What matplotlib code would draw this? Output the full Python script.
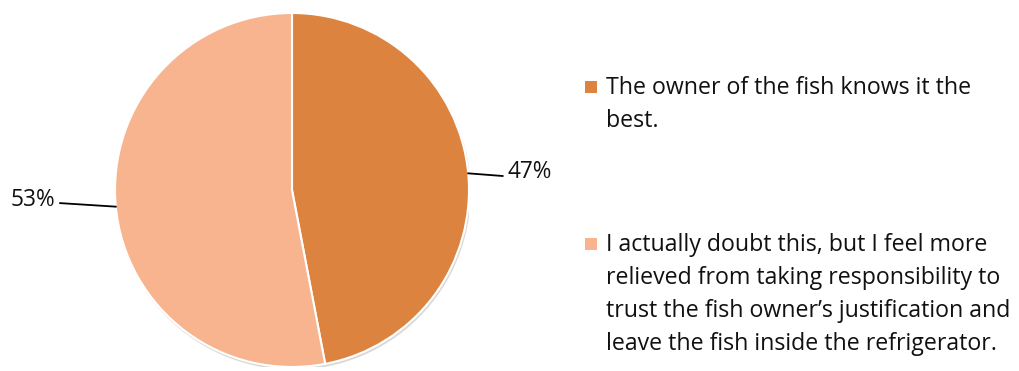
import matplotlib.pyplot as plt
import numpy as np
from matplotlib.patches import Rectangle, Circle

plt.rcParams['font.family'] = ['Open Sans', 'DejaVu Sans']

labels = ['The owner of the fish knows it the\nbest.',
          'I actually doubt this, but I feel more\nrelieved from taking responsibility to\n'
          'trust the fish owner\u2019s justification and\nleave the fish inside the refrigerator.']
shares = [47, 53]
colors = ['#DC843F', '#F8B48F']

fig = plt.figure(figsize=(10.2, 3.71), dpi=100)
ax = fig.add_axes([115 / 1020, 4 / 371, 354 / 1020, 354 / 371])

# soft shadow under the pie
ax.add_patch(Circle((0.006, -0.012), 1.0, color='#c4c4c4', alpha=0.5, zorder=0))

wedges, _ = ax.pie(shares, colors=colors, startangle=90, counterclock=False,
                   radius=1.0, wedgeprops=dict(edgecolor='white', linewidth=1.5))
for w in wedges:
    w.set_zorder(1)

ax.set_xlim(-1, 1)
ax.set_ylim(-1, 1)
ax.set_aspect('equal')
ax.axis('off')

# leader lines and percentage labels
for w, s in zip(wedges, shares):
    mid = np.deg2rad((w.theta1 + w.theta2) / 2)
    x0, y0 = np.cos(mid), np.sin(mid)
    if x0 > 0:
        x1, y1 = 1.19, y0 - 0.015
        tx, ty, ha = 1.22, y0 + 0.005, 'left'
    else:
        x1, y1 = -1.31, y0 + 0.02
        tx, ty, ha = -1.34, y0 + 0.04, 'right'
    ax.plot([x0, x1], [y0, y1], color='black', lw=1.3, clip_on=False, zorder=3)
    ax.text(tx, ty, f'{s}%', ha=ha, va='center', fontsize=16.3, color='#111111',
            clip_on=False)

# legend
tops = [78, 235]
for lab, c, y in zip(labels, colors, tops):
    fig.patches.append(Rectangle((585 / 1020, 1 - (y + 15) / 371), 12 / 1020, 12 / 371,
                                 transform=fig.transFigure, facecolor=c, edgecolor='none'))
    fig.text(606 / 1020, 1 - (y - 2) / 371, lab, ha='left', va='top', fontsize=16.7,
             linespacing=1.5, color='#111111')

fig.savefig('out.png', dpi=100)
